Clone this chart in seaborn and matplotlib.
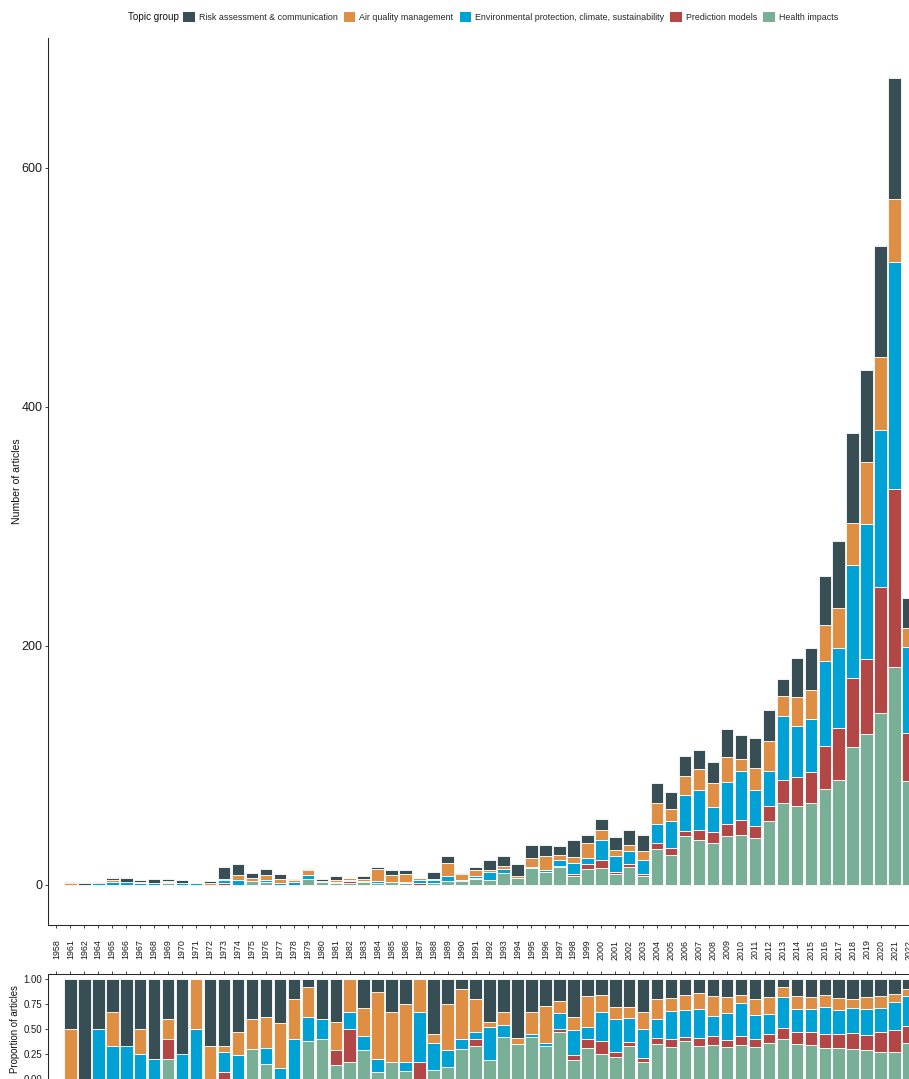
import matplotlib
matplotlib.use("Agg")
import matplotlib.pyplot as plt
from matplotlib.patches import Patch
import pandas as pd
import seaborn as sns

# Publication years shown on the x axis (years without any article are skipped)
years = [1958, 1961, 1962, 1964, 1965, 1966, 1967, 1968, 1969, 1970,
         1971, 1972, 1973, 1974, 1975, 1976, 1977, 1978, 1979, 1980,
         1981, 1982, 1983, 1984, 1985, 1986, 1987, 1988, 1989, 1990,
         1991, 1992, 1993, 1994, 1995, 1996, 1997, 1998, 1999, 2000,
         2001, 2002, 2003, 2004, 2005, 2006, 2007, 2008, 2009, 2010,
         2011, 2012, 2013, 2014, 2015, 2016, 2017, 2018, 2019, 2020,
         2021, 2022]

# Number of articles per topic group and year
risk = [0, 1, 1, 1, 2, 4, 2, 4, 2, 3,
        0, 2, 10, 9, 4, 5, 4, 1, 1, 2,
        3, 0, 2, 2, 4, 3, 0, 6, 6, 1,
        3, 9, 8, 10, 11, 9, 7, 14, 7, 9,
        11, 13, 14, 17, 15, 17, 16, 18, 23, 20,
        25, 26, 14, 33, 35, 41, 56, 75, 77, 93,
        101, 25]
air_quality = [0, 1, 0, 0, 2, 0, 1, 0, 1, 0,
               1, 1, 1, 4, 3, 4, 4, 2, 4, 0,
               2, 2, 2, 10, 6, 7, 2, 1, 11, 5,
               5, 1, 3, 1, 7, 12, 4, 5, 13, 9,
               5, 5, 7, 17, 10, 16, 18, 20, 21, 10,
               19, 25, 17, 24, 24, 30, 34, 35, 52, 61,
               53, 16]
environment = [0, 0, 0, 1, 2, 2, 1, 1, 0, 1,
               1, 0, 3, 4, 0, 2, 1, 2, 3, 1,
               0, 1, 1, 2, 0, 1, 3, 3, 4, 1,
               1, 7, 3, 0, 1, 1, 5, 9, 5, 16,
               13, 11, 12, 16, 22, 30, 33, 21, 35, 41,
               30, 29, 53, 43, 45, 71, 67, 95, 113, 132,
               190, 72]
prediction = [0, 0, 0, 0, 0, 0, 0, 0, 1, 0,
              0, 0, 1, 0, 0, 0, 0, 0, 0, 0,
              1, 2, 0, 0, 0, 0, 1, 0, 0, 0,
              1, 0, 0, 0, 0, 0, 1, 2, 4, 7,
              2, 2, 2, 5, 6, 4, 9, 9, 10, 12,
              10, 13, 20, 24, 26, 36, 43, 58, 63, 105,
              149, 40]
health = [0, 0, 0, 0, 0, 0, 0, 0, 1, 0,
          0, 0, 0, 0, 3, 2, 0, 0, 5, 2,
          1, 1, 2, 1, 2, 1, 0, 1, 3, 3,
          5, 4, 10, 6, 14, 11, 15, 7, 13, 14,
          9, 15, 7, 30, 25, 41, 37, 35, 41, 42,
          39, 53, 68, 66, 68, 80, 88, 115, 126, 144,
          182, 87]

topics = ["Risk assessment & communication", "Air quality management",
          "Environmental protection, climate, sustainability",
          "Prediction models", "Health impacts"]
colors = ["#374E55", "#DF8F44", "#00A1D5", "#B24745", "#79AF97"]
series = [risk, air_quality, environment, prediction, health]

rows = []
for topic, values in zip(topics, series):
    for pos, (yr, n) in enumerate(zip(years, values)):
        rows.append({"pos": pos, "year": yr, "topic": topic, "count": n})
df = pd.DataFrame(rows)
totals = df.groupby("pos")["count"].transform("sum")
df_share = df[totals > 0]

sns.set_theme(style="ticks")
plt.rcParams["font.family"] = ["Liberation Sans", "DejaVu Sans"]
plt.rcParams["axes.linewidth"] = 0.75

W, H = 909, 1079
fig = plt.figure(figsize=(W / 100, H / 100), dpi=100)

left, right = 48, 917
ax1 = fig.add_axes([left / W, (H - 925) / H, (right - left) / W, (925 - 38) / H])
ax2 = fig.add_axes([left / W, (H - 1084) / H, (right - left) / W, (1084 - 974) / H])

palette = dict(zip(topics, colors))
bar_kw = dict(x="pos", weights="count", hue="topic", hue_order=topics,
              palette=palette, discrete=True, shrink=0.9, alpha=1,
              edgecolor="white", linewidth=0.6, legend=False)

sns.histplot(data=df, multiple="stack", ax=ax1, **bar_kw)
sns.histplot(data=df_share, multiple="fill", ax=ax2, **bar_kw)

n = len(years)
for ax in (ax1, ax2):
    ax.set_xlim(-0.6, n - 1 + 0.6)
    ax.set_xlabel("")
    ax.set_xticks(range(n))
    ax.tick_params(axis="both", length=2.5, width=0.6, color="#222222")
    ax.tick_params(axis="y", pad=1.5)

# Count panel
ax1.set_ylim(-33.75, 708.75)
ax1.set_yticks([0, 200, 400, 600])
ax1.set_yticklabels(["0", "200", "400", "600"], fontsize=9, color="#1a1a1a")
ax1.set_xticklabels([str(y) for y in years], rotation=90, fontsize=6.4,
                    color="#1a1a1a")
ax1.tick_params(axis="x", pad=8)
ax1.set_ylabel("Number of articles", fontsize=7.6, color="#111111")
ax1.yaxis.set_label_coords((22 - left) / (right - left), 0.5)
for s in ("top", "right"):
    ax1.spines[s].set_visible(False)

# Share panel, its x axis drawn on top
ax2.set_ylim(-0.05, 1.05)
ax2.set_yticks([0, 0.25, 0.5, 0.75, 1.0])
ax2.set_yticklabels(["0.00", "0.25", "0.50", "0.75", "1.00"], fontsize=6.9,
                    color="#1a1a1a")
ax2.xaxis.tick_top()
ax2.tick_params(axis="x", labeltop=False, labelbottom=False)
ax2.set_ylabel("Proportion of articles", fontsize=6.9, color="#111111")
ax2.yaxis.set_label_coords((20 - left) / (right - left), 0.5)
for s in ("bottom", "right"):
    ax2.spines[s].set_visible(False)
ax2.spines["top"].set_visible(True)

# Legend across the top
fig.text(128 / W, 1 - 17 / H, "Topic group", fontsize=7.1, va="center",
         ha="left", color="#111111")
handles = [Patch(facecolor=c, edgecolor="none") for c in colors]
fig.legend(handles, topics, loc="center left",
           bbox_to_anchor=(183 / W, 1 - 17 / H), ncol=5, frameon=False,
           fontsize=6.4, handlelength=1.3, handleheight=1.3,
           handletextpad=0.45, columnspacing=0.7, borderpad=0,
           borderaxespad=0)

fig.savefig("out.png", dpi=100)
